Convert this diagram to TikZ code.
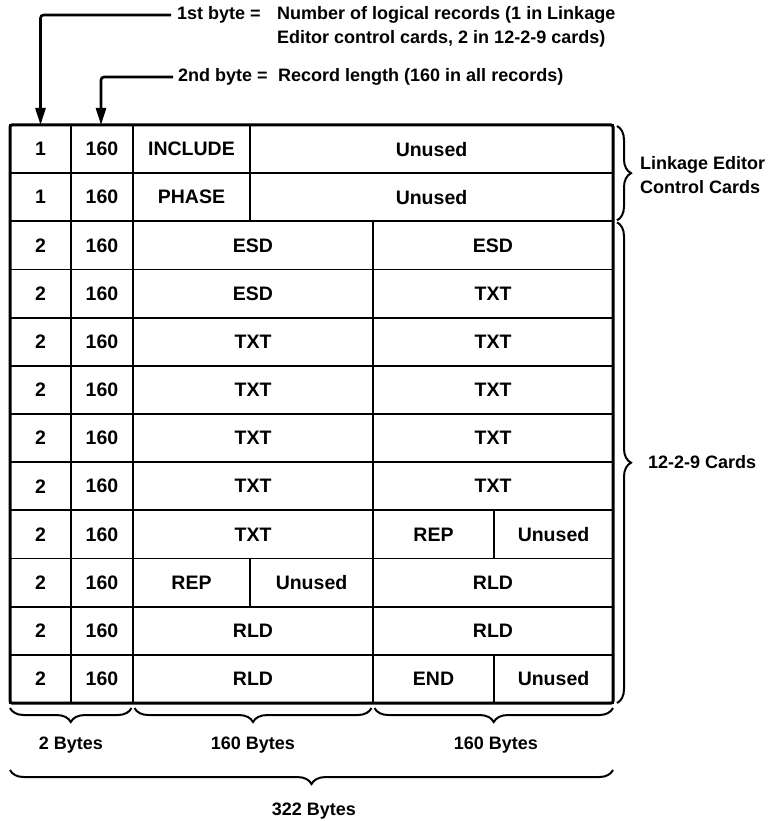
\documentclass[tikz,border=0pt]{standalone}
\usepackage{fontspec}
\setmainfont{Liberation Sans}
\usetikzlibrary{arrows.meta,decorations.pathreplacing,calc}
\newcommand\mycell[5]{\node[cell, minimum width={#3-#2}, minimum height=48.17] (#1) at ({(#2+#3)/2},{125+48.17*(#4-0.5)}) {#5};}
\begin{document}
\begin{tikzpicture}[x=1pt,y=-1pt,
  cell/.style={draw, line width=1.8pt, inner sep=0pt, outer sep=0pt, font=\fontsize{19.5}{21}\selectfont\bfseries},
  ann/.style={inner sep=0pt, anchor=west, font=\fontsize{18}{24}\selectfont\bfseries},
  outerframe/.style={line width=3pt, rounded corners=2pt},
  arr/.style={line width=2.6pt, rounded corners=3pt, -{Triangle[length=17pt,width=10pt]}},
  brc/.style={decorate, decoration={brace, amplitude=14pt}, line width=2pt},
  brcm/.style={decorate, decoration={brace, amplitude=14pt, mirror}, line width=2pt}]
\useasboundingbox (0,0) rectangle (769,821);
% row 1
\mycell{r1a}{10}{71}{1}{1}
\mycell{r1b}{71}{133}{1}{160}
\mycell{r1c}{133}{250}{1}{INCLUDE}
\mycell{r1d}{250}{613}{1}{Unused}
% row 2
\mycell{r2a}{10}{71}{2}{1}
\mycell{r2b}{71}{133}{2}{160}
\mycell{r2c}{133}{250}{2}{PHASE}
\mycell{r2d}{250}{613}{2}{Unused}
% row 3
\mycell{r3a}{10}{71}{3}{2}
\mycell{r3b}{71}{133}{3}{160}
\mycell{r3c}{133}{373}{3}{ESD}
\mycell{r3d}{373}{613}{3}{ESD}
% row 4
\mycell{r4a}{10}{71}{4}{2}
\mycell{r4b}{71}{133}{4}{160}
\mycell{r4c}{133}{373}{4}{ESD}
\mycell{r4d}{373}{613}{4}{TXT}
% rows 5-8
\foreach \r in {5,6,7,8}{
  \mycell{r\r a}{10}{71}{\r}{2}
  \mycell{r\r b}{71}{133}{\r}{160}
  \mycell{r\r c}{133}{373}{\r}{TXT}
  \mycell{r\r d}{373}{613}{\r}{TXT}
}
% row 9
\mycell{r9a}{10}{71}{9}{2}
\mycell{r9b}{71}{133}{9}{160}
\mycell{r9c}{133}{373}{9}{TXT}
\mycell{r9d}{373}{494}{9}{REP}
\mycell{r9e}{494}{613}{9}{Unused}
% row 10
\mycell{r10a}{10}{71}{10}{2}
\mycell{r10b}{71}{133}{10}{160}
\mycell{r10c}{133}{250}{10}{REP}
\mycell{r10d}{250}{373}{10}{Unused}
\mycell{r10e}{373}{613}{10}{RLD}
% row 11
\mycell{r11a}{10}{71}{11}{2}
\mycell{r11b}{71}{133}{11}{160}
\mycell{r11c}{133}{373}{11}{RLD}
\mycell{r11d}{373}{613}{11}{RLD}
% row 12
\mycell{r12a}{10}{71}{12}{2}
\mycell{r12b}{71}{133}{12}{160}
\mycell{r12c}{133}{373}{12}{RLD}
\mycell{r12d}{373}{494}{12}{END}
\mycell{r12e}{494}{613}{12}{Unused}
% outer frame
\draw[outerframe] (r1a.north west) rectangle (r12e.south east);
% top annotations
\node[ann, inner xsep=6pt] (t1) at (171,15) {1st byte =};
\node[ann] (n1) at (277,15) {Number of logical records (1 in Linkage};
\node[ann] (n2) at (277,39) {Editor control cards, 2 in 12-2-9 cards)};
\node[ann, inner xsep=5pt] (t2) at (173,77) {2nd byte =};
\node[ann] (n3) at (278,77) {Record length (160 in all records)};
\draw[arr] (t1.west) -| (r1a.north);
\draw[arr] (t2.west) -| ($(r1b.north)+(-1,0)$);
% right braces
\draw[brc] ($(r1d.north east)+(4,1)$) -- ($(r2d.south east)+(4,-1)$);
\draw[brc] ($(r3d.north east)+(4,1)$) -- ($(r12e.south east)+(4,0)$);
\node[ann, align=left] (lk) at (640,175) {Linkage Editor\\Control Cards};
\node[ann] (cc) at (648,462) {12-2-9 Cards};
% bottom braces
\draw[brcm] ($(r12a.south west)+(0,5)$) -- ($(r12b.south east)+(-1.5,5)$);
\draw[brcm] ($(r12c.south west)+(1.5,5)$) -- ($(r12c.south east)+(-1.5,5)$);
\draw[brcm] ($(r12d.south west)+(1.5,5)$) -- ($(r12e.south east)+(0,5)$);
\draw[brcm] ($(r12a.south west)+(0,67)$) -- ($(r12e.south east)+(0,67)$);
\node[ann, anchor=center] (b1) at (71,745) {2 Bytes};
\node[ann, anchor=center] (b2) at (253,745) {160 Bytes};
\node[ann, anchor=center] (b3) at (496,745) {160 Bytes};
\node[ann, anchor=center] (b4) at (314,811) {322 Bytes};
\end{tikzpicture}
\end{document}
